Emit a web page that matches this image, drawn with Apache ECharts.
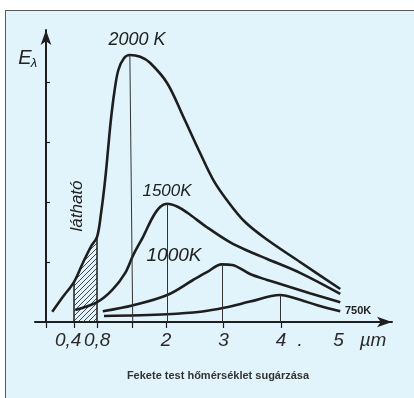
<!DOCTYPE html>
<html><head><meta charset="utf-8">
<script src="https://cdn.jsdelivr.net/npm/echarts@6/dist/echarts.min.js"></script>
<style>
html,body{margin:0;padding:0;background:#fff;}
#frame{position:absolute;left:5px;top:10px;width:409px;height:388px;background:#e1f3fb;border-left:1px solid #5a5a5a;border-top:1px solid #5a5a5a;box-sizing:border-box;}
#chart{position:absolute;left:0;top:0;width:414px;height:398px;}
</style></head><body>
<div id="frame"></div><div id="chart"></div>
<script>
// ---- data (x in µm, y in relative units) ----
const curve2000 = [[0.02,0.17],[0.19,0.40],[0.4,0.67],[0.55,0.98],[0.7,1.27],[0.8,1.42],[0.87,1.82],[0.94,2.37],[0.99,2.87],[1.04,3.37],[1.1,3.83],[1.17,4.2],[1.27,4.4],[1.37,4.45],[1.55,4.42],[1.72,4.32],[2.02,3.98],[2.3,3.42],[2.59,2.82],[2.82,2.37],[3.06,2.03],[3.37,1.67],[3.76,1.37],[4.33,1.0],[5.03,0.55]];
const curve1500 = [[0.42,0.2],[0.8,0.33],[1.06,0.53],[1.29,0.82],[1.43,1.12],[1.6,1.42],[1.77,1.75],[1.9,1.92],[2.02,1.97],[2.2,1.92],[2.37,1.82],[2.71,1.58],[3.11,1.33],[3.46,1.17],[3.76,1.05],[4.33,0.82],[5.03,0.47]];
const curve1000 = [[0.9,0.18],[1.43,0.28],[2.02,0.45],[2.47,0.7],[2.71,0.83],[2.97,0.96],[3.15,0.95],[3.46,0.8],[3.76,0.7],[4.03,0.62],[4.5,0.48],[5.03,0.33]];
const curve750 = [[0.92,0.1],[2.02,0.13],[2.6,0.17],[3.03,0.24],[3.46,0.34],[3.98,0.45],[4.33,0.37],[4.63,0.28],[5.03,0.18]];
const visibleRange = [0.4, 0.8];
const peak2000Foot = 1.42;
const xTickValues = [-0.09, 0.4, 0.8, 1.42, 2, 3, 4];
const xLabelValues = [0.4, 0.8, 2, 3, 4, 4.33, 5, 5.6];
const xLabelTexts = ['0,4', '0,8', '2', '3', '4', '.', '5', 'µm'];
const yTickValues = [1, 2, 3, 4];
const curveNames = ['2000 K', '1500K', '1000K', '750K'];
const title = 'Fekete test hőmérséklet sugárzása';
const visibleText = 'látható';

// ---- styles ----
const INK = '#1e1e1e';
const HAND = 'italic 18px "Liberation Sans", sans-serif';

function hatchPattern() {
  const c = document.createElement('canvas');
  c.width = 5; c.height = 5;
  const g = c.getContext('2d');
  g.strokeStyle = '#333';
  g.lineWidth = 0.9;
  g.beginPath();
  g.moveTo(-1, 6); g.lineTo(6, -1);
  g.moveTo(-1, 1); g.lineTo(1, -1);
  g.moveTo(4, 6); g.lineTo(6, 4);
  g.stroke();
  return c;
}

function peak(arr) { return arr.reduce((a, b) => (b[1] > a[1] ? b : a)); }

const visiblePart = curve2000.filter(p => p[0] >= visibleRange[0] && p[0] <= visibleRange[1]);
const vLeft = visiblePart[0], vRight = visiblePart[visiblePart.length - 1];

const p2000 = peak(curve2000), p1500 = peak(curve1500), p1000 = peak(curve1000), p750 = peak(curve750);

const thin = { color: '#333', width: 1, type: 'solid' };
function drop(from, toX) {
  return [{ coord: from, symbol: 'none' }, { coord: [toX, 0], symbol: 'none' }];
}

const chart = echarts.init(document.getElementById('chart'), null, { renderer: 'canvas' });

const curveLine = { color: INK, width: 2.6 };

chart.setOption({
  backgroundColor: 'transparent',
  animation: false,
  grid: { left: 35, right: 22, top: 30, bottom: 76 },
  xAxis: {
    type: 'value', min: -0.28, max: 5.93,
    splitLine: { show: false },
    axisLine: { onZero: true, lineStyle: { color: INK, width: 2 }, symbol: ['none', 'arrow'], symbolSize: [8, 15] },
    axisTick: { show: true, customValues: xTickValues, length: 6, inside: false, lineStyle: { color: INK, width: 1.2 } },
    axisLabel: {
      show: true, customValues: xLabelValues, margin: 9,
      formatter: (v) => {
        const i = xLabelValues.findIndex(x => Math.abs(x - v) < 1e-6);
        const t = i >= 0 ? xLabelTexts[i] : '';
        return i === 0 ? '{l|' + t + '}' : t;
      },
      fontFamily: 'Liberation Sans', fontStyle: 'italic', fontSize: 19, color: '#2a2a2a',
      rich: { l: { fontFamily: 'Liberation Sans', fontStyle: 'italic', fontSize: 19, color: '#2a2a2a', padding: [0, 12, 0, 0] } }
    }
  },
  yAxis: {
    type: 'value', min: 0, max: 292 / 60,
    offset: -11,
    splitLine: { show: false },
    axisLine: { show: true, onZero: false, lineStyle: { color: INK, width: 2 }, symbol: ['none', 'arrow'], symbolSize: [8, 15] },
    axisTick: { show: true, customValues: yTickValues, inside: true, length: 4, lineStyle: { color: INK, width: 1.2 } },
    axisLabel: { show: false }
  },
  series: [
    {
      name: 'visible', type: 'line', data: visiblePart, symbol: 'none', smooth: false,
      lineStyle: { width: 0 },
      areaStyle: { color: { image: hatchPattern(), repeat: 'repeat' }, opacity: 1 },
      z: 1,
      markLine: {
        silent: true, symbol: 'none', label: { show: false },
        lineStyle: { color: INK, width: 1.5, type: 'solid' },
        data: [
          [{ coord: [vLeft[0], 0] }, { coord: vLeft }],
          [{ coord: [vRight[0], 0] }, { coord: vRight }]
        ]
      }
    },
    {
      name: curveNames[0], type: 'line', data: curve2000, symbol: 'none', smooth: 0.35,
      lineStyle: curveLine, z: 3,
      markLine: { silent: true, symbol: 'none', label: { show: false }, lineStyle: thin, data: [drop(p2000, peak2000Foot)] }
    },
    {
      name: curveNames[1], type: 'line', data: curve1500, symbol: 'none', smooth: 0.35,
      lineStyle: curveLine, z: 3,
      markLine: { silent: true, symbol: 'none', label: { show: false }, lineStyle: thin, data: [drop(p1500, p1500[0])] }
    },
    {
      name: curveNames[2], type: 'line', data: curve1000, symbol: 'none', smooth: 0.35,
      lineStyle: curveLine, z: 3,
      markLine: { silent: true, symbol: 'none', label: { show: false }, lineStyle: thin, data: [drop(p1000, p1000[0])] }
    },
    {
      name: curveNames[3], type: 'line', data: curve750, symbol: 'none', smooth: 0.35,
      lineStyle: curveLine, z: 3,
      markLine: { silent: true, symbol: 'none', label: { show: false }, lineStyle: thin, data: [drop(p750, p750[0])] }
    }
  ],
  graphic: [
    { type: 'text', x: 137, y: 40, style: { text: curveNames[0], font: HAND, fill: '#222', align: 'center', verticalAlign: 'middle', textAlign: 'center', textVerticalAlign: 'middle' } },
    { type: 'text', x: 167, y: 191, style: { text: curveNames[1], font: 'italic 17px "Liberation Sans", sans-serif', fill: '#222', align: 'center', verticalAlign: 'middle', textAlign: 'center', textVerticalAlign: 'middle' } },
    { type: 'text', x: 174, y: 256, style: { text: curveNames[2], font: 'italic 19px "Liberation Sans", sans-serif', fill: '#222', align: 'center', verticalAlign: 'middle', textAlign: 'center', textVerticalAlign: 'middle' } },
    { type: 'text', x: 345, y: 311, style: { text: curveNames[3], font: 'bold 11px "Liberation Sans", sans-serif', fill: '#222', align: 'left', verticalAlign: 'middle', textAlign: 'left', textVerticalAlign: 'middle' } },
    { type: 'text', x: 25, y: 58, style: { text: 'E', font: 'italic 20px "Liberation Sans", sans-serif', fill: '#222', align: 'center', verticalAlign: 'middle', textAlign: 'center', textVerticalAlign: 'middle' } },
    { type: 'text', x: 34, y: 63, style: { text: 'λ', font: 'italic 13px "Liberation Sans", sans-serif', fill: '#222', align: 'center', verticalAlign: 'middle', textAlign: 'center', textVerticalAlign: 'middle' } },
    { type: 'text', x: 77, y: 206, rotation: Math.PI / 2, style: { text: visibleText, font: 'italic 17px "Liberation Sans", sans-serif', fill: '#222', align: 'center', verticalAlign: 'middle', textAlign: 'center', textVerticalAlign: 'middle' } },
    { type: 'text', x: 218, y: 376, style: { text: title, font: 'bold 11px "Liberation Sans", Arial, sans-serif', fill: '#333', align: 'center', verticalAlign: 'middle', textAlign: 'center', textVerticalAlign: 'middle' } }
  ]
});
</script></body></html>
